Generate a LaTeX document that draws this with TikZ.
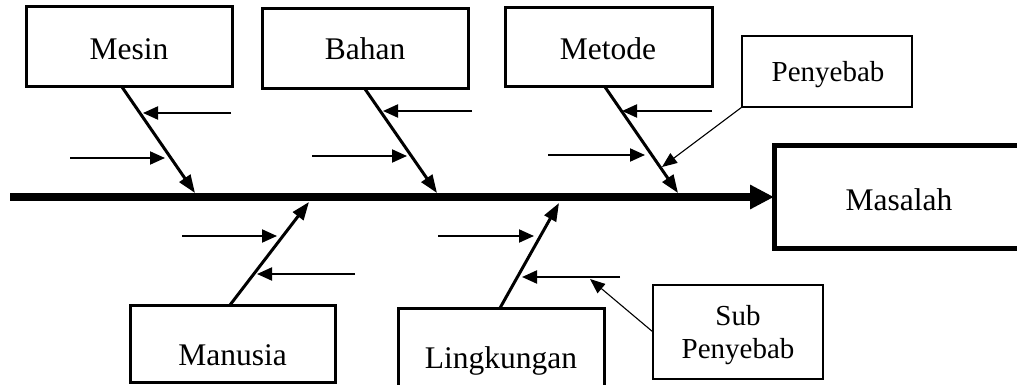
\documentclass[tikz,border=0pt]{standalone}
\usepackage{fontspec}
\setmainfont{Liberation Serif}
\usetikzlibrary{arrows.meta}
\begin{document}
\begin{tikzpicture}[x=1pt,y=-1pt,
  bigbox/.style={draw,line width=3pt,rectangle,inner sep=0pt,outer sep=0pt},
  thinbox/.style={draw,line width=1.6pt,rectangle,inner sep=0pt,outer sep=0pt},
  mainbox/.style={draw,line width=5pt,rectangle,inner sep=0pt,outer sep=0pt},
  lbl/.style={anchor=base,inner sep=0pt,font=\fontsize{31.5}{36}\selectfont},
  slbl/.style={anchor=base,inner sep=0pt,font=\fontsize{29}{33}\selectfont},
  spine/.style={line width=8pt,-{Triangle[length=24pt,width=23pt]}},
  bone/.style={line width=3pt,-{Triangle[length=18pt,width=13pt]}},
  sub/.style={line width=2pt,-{Triangle[length=15pt,width=13pt]}},
  pointer/.style={line width=1.1pt,-{Triangle[length=15pt,width=12pt]}}]
\useasboundingbox (0,0) rectangle (1017,385);
\clip (0,0) rectangle (1017,385);
% boxes
\node[bigbox,minimum width=206pt,minimum height=80pt] (mesin) at (129,47) {};
\node[bigbox,minimum width=206pt,minimum height=80pt] (bahan) at (365,49) {};
\node[bigbox,minimum width=207pt,minimum height=79pt] (metode) at (608.5,47.5) {};
\node[thinbox,minimum width=170pt,minimum height=71pt] (penyebab) at (827,71.5) {};
\node[mainbox,minimum width=250pt,minimum height=102pt] (masalah) at (899,197) {};
\node[bigbox,minimum width=205pt,minimum height=77pt] (manusia) at (232.5,343.5) {};
\node[bigbox,minimum width=206pt,minimum height=80pt] (lingkungan) at (501,348) {};
\node[thinbox,minimum width=170pt,minimum height=94pt] (subp) at (738,332) {};
% texts
\node[lbl] (mesinT) at (129,60) {Mesin};
\node[lbl] (bahanT) at (365,60) {Bahan};
\node[lbl] (metodeT) at (608,60) {Metode};
\node[slbl] (penyebabT) at (828,82) {Penyebab};
\node[lbl] (masalahT) at (899,210) {Masalah};
\node[lbl] (manusiaT) at (232.5,365) {Manusia};
\node[lbl] (lingkunganT) at (501,368) {Lingkungan};
\node[slbl] (subT1) at (738,325) {Sub};
\node[slbl] (subT2) at (738,358) {Penyebab};
% spine
\coordinate (spL) at (10,197);
\draw[spine] (spL) -- (masalah.west);
% bone tips
\coordinate (tMesin) at (195,193);
\coordinate (tBahan) at (437,193);
\coordinate (tMetode) at (678,193);
\coordinate (tManusia) at (309,202);
\coordinate (tLing) at (559,203);
\draw[bone] ([xshift=-7pt]mesin.south) -- (tMesin);
\draw[bone] (bahan.south) -- (tBahan);
\draw[bone] ([xshift=-3.5pt]metode.south) -- (tMetode);
\draw[bone] ([xshift=-2.5pt]manusia.north) -- (tManusia);
\draw[bone] ([xshift=-1pt]lingkungan.north) -- (tLing);
% sub causes
\coordinate (a1s) at (231,113); \coordinate (a1e) at (143,113);
\coordinate (a2s) at (70,158);  \coordinate (a2e) at (165,158);
\coordinate (b1s) at (472,111); \coordinate (b1e) at (383,111);
\coordinate (b2s) at (312,156); \coordinate (b2e) at (407,156);
\coordinate (c1s) at (712,111); \coordinate (c1e) at (622,111);
\coordinate (c2s) at (548,155); \coordinate (c2e) at (645,155);
\coordinate (d1s) at (182,236); \coordinate (d1e) at (277,236);
\coordinate (d2s) at (355,274); \coordinate (d2e) at (257,274);
\coordinate (e1s) at (438,236); \coordinate (e1e) at (534,236);
\coordinate (e2s) at (620,277); \coordinate (e2e) at (522,277);
\foreach \p in {a1,a2,b1,b2,c1,c2,d1,d2,e1,e2}{\draw[sub] (\p s) -- (\p e);}
% pointers
\coordinate (pp) at (662,167);
\coordinate (sp) at (590,279);
\draw[pointer] (penyebab.south west) -- (pp);
\draw[pointer] (subp.west) -- (sp);
\end{tikzpicture}
\end{document}
